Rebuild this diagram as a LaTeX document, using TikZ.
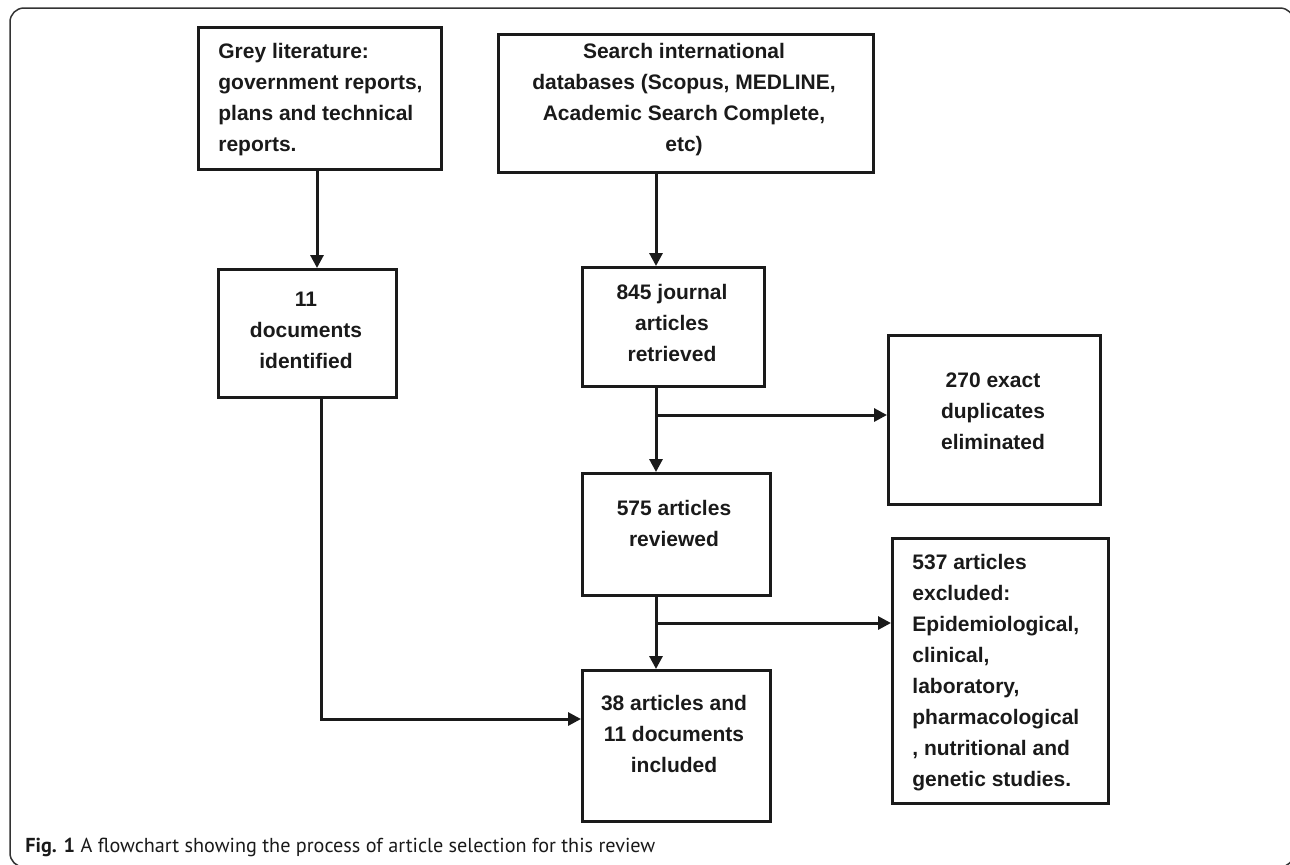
\documentclass[tikz,border=0pt]{standalone}
\usepackage{fontspec}
\setmainfont{Liberation Sans}
\newfontfamily\capfont{PT Sans}
\usetikzlibrary{arrows.meta}
\definecolor{ink}{HTML}{1A1A1A}
\definecolor{framec}{HTML}{333333}
\begin{document}
\begin{tikzpicture}[x=0.5pt,y=-0.5pt,
  box/.style={draw=ink, line width=1.5pt, inner sep=0pt, anchor=north west},
  lbl/.style={font=\bfseries\fontsize{10.5}{15.5}\selectfont, text=ink, inner sep=0pt},
  conn/.style={draw=ink, line width=1.5pt},
  arr/.style={conn, -{Triangle[length=6.5pt,width=6.5pt]}},
]
\useasboundingbox (0,0) rectangle (1290,864);
\draw[draw=framec, line width=0.75pt, rounded corners=7pt] (10,8) rectangle (1294,867);

% boxes
\node[box, minimum width=121.5pt, minimum height=71pt] (grey) at (197,26) {};
\node[box, minimum width=187.5pt, minimum height=69pt] (search) at (497,33) {};
\node[box, minimum width=89pt, minimum height=64pt] (docs) at (217,268) {};
\node[box, minimum width=91pt, minimum height=59.5pt] (n845) at (581,266) {};
\node[box, minimum width=106pt, minimum height=84.5pt] (n270) at (887,334) {};
\node[box, minimum width=94pt, minimum height=61pt] (n575) at (581,472) {};
\node[box, minimum width=108pt, minimum height=132.5pt] (n537) at (891,537) {};
\node[box, minimum width=94pt, minimum height=75.5pt] (n38) at (581,669) {};

% texts
\node[lbl, align=left, anchor=west] (tgrey) at (218,100) {Grey literature:\\government reports,\\plans and technical\\reports.};
\node[lbl, align=center] (tsearch) at (684,100) {Search international\\databases (Scopus, MEDLINE,\\Academic Search Complete,\\etc)};
\node[lbl, align=center] (tdocs) at (306,330) {11\\documents\\identified};
\node[lbl, align=center] (t845) at (672,323) {845 journal\\articles\\retrieved};
\node[lbl, align=center] (t270) at (993,411) {270 exact\\duplicates\\eliminated};
\node[lbl, align=center] (t575) at (674,523) {575 articles\\reviewed};
\node[lbl, align=left, anchor=west] (t537) at (912,673) {537 articles\\excluded:\\Epidemiological,\\clinical,\\laboratory,\\pharmacological\\, nutritional and\\genetic studies.};
\node[lbl, align=center] (t38) at (674,734) {38 articles and\\11 documents\\included};

% caption
\node[anchor=base west, inner sep=0pt, text=ink, font=\capfont\fontsize{10.1}{12}\selectfont] (caption) at (25,852) {\textbf{Fig. 1} A flowchart showing the process of article selection for this review};

% connectors
\coordinate (c0) at (317,0);
\coordinate (c1) at (656,0);
\coordinate (c2) at (321,0);
\coordinate (b1) at (656,415);
\coordinate (b2) at (656,623);
\coordinate (e1) at (0,719);
\draw[arr] (grey.south -| c0) -- (docs.north -| c0);
\draw[arr] (search.south -| c1) -- (n845.north -| c1);
\draw[arr] (n845.south -| c1) -- (n575.north -| c1);
\draw[arr] (b1) -- (n270.west |- b1);
\draw[arr] (n575.south -| c1) -- (n38.north -| c1);
\draw[arr] (b2) -- (n537.west |- b2);
\draw[arr] (docs.south -| c2) |- (n38.west |- e1);
\end{tikzpicture}
\end{document}
